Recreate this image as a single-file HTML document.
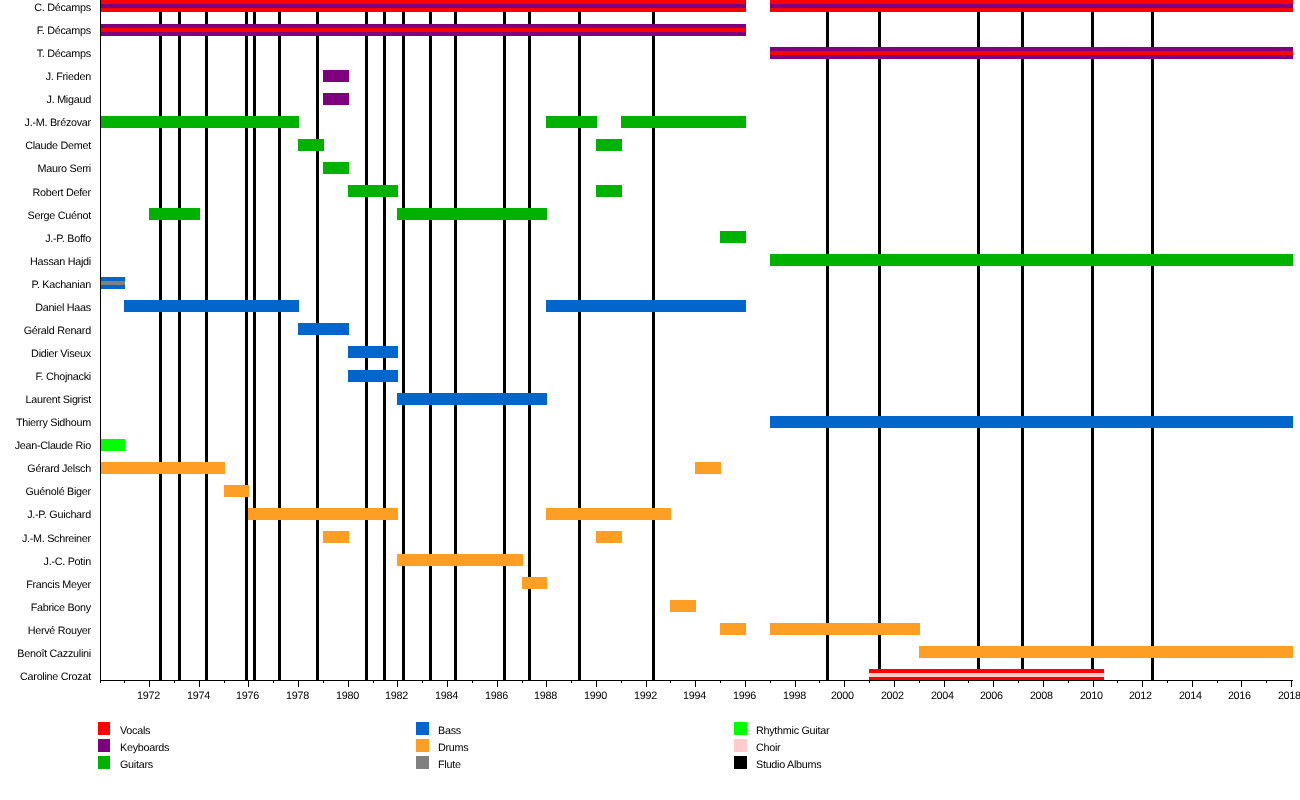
<!DOCTYPE html>
<html><head><meta charset="utf-8"><title>Timeline</title>
<style>
html,body{margin:0;padding:0;background:#fff;}
body{width:1300px;height:800px;position:relative;overflow:hidden;font-family:"Liberation Sans",Arial,sans-serif;font-size:10.8px;letter-spacing:-0.28px;color:#000;text-rendering:geometricPrecision;}
div{position:absolute;}
.l{top:0;width:3px;height:681px;background:#000;}
.b{height:12px;}
.i{height:4px;}
.n{left:0;width:90.9px;text-align:right;white-space:nowrap;line-height:12px;height:12px;}
.t{top:681px;width:1px;height:6px;background:#000;}
.m{top:681px;width:1px;height:2px;background:#000;}
.y{top:690px;width:40px;text-align:left;line-height:12px;height:12px;white-space:nowrap;}
.s{width:13px;height:13px;}
.g{line-height:12px;height:12px;white-space:nowrap;}
#w{left:0;top:0;width:1300px;height:800px;will-change:transform;}
</style></head><body><div id="w">

<div class="l" style="left:159px"></div>
<div class="l" style="left:178px"></div>
<div class="l" style="left:205px"></div>
<div class="l" style="left:245px"></div>
<div class="l" style="left:253px"></div>
<div class="l" style="left:278px"></div>
<div class="l" style="left:316px"></div>
<div class="l" style="left:365px"></div>
<div class="l" style="left:383px"></div>
<div class="l" style="left:402px"></div>
<div class="l" style="left:429px"></div>
<div class="l" style="left:454px"></div>
<div class="l" style="left:503px"></div>
<div class="l" style="left:528px"></div>
<div class="l" style="left:578px"></div>
<div class="l" style="left:652px"></div>
<div class="l" style="left:826px"></div>
<div class="l" style="left:878px"></div>
<div class="l" style="left:977px"></div>
<div class="l" style="left:1021px"></div>
<div class="l" style="left:1091px"></div>
<div class="l" style="left:1151px"></div>


<div class="b" style="left:100px;top:0px;width:646px;background:#ff0000"></div>
<div class="i" style="left:100px;top:4px;width:646px;background:#7e007e"></div>
<div class="b" style="left:770px;top:0px;width:523px;background:#ff0000"></div>
<div class="i" style="left:770px;top:4px;width:523px;background:#7e007e"></div>
<div class="b" style="left:100px;top:24px;width:646px;background:#7e007e"></div>
<div class="i" style="left:100px;top:28px;width:646px;background:#ff0000"></div>
<div class="b" style="left:770px;top:47px;width:523px;background:#7e007e"></div>
<div class="i" style="left:770px;top:51px;width:523px;background:#ff0000"></div>
<div class="b" style="left:323px;top:70px;width:26px;background:#7e007e"></div>
<div class="b" style="left:323px;top:93px;width:26px;background:#7e007e"></div>
<div class="b" style="left:100px;top:116px;width:199px;background:#00b200"></div>
<div class="b" style="left:546px;top:116px;width:51px;background:#00b200"></div>
<div class="b" style="left:621px;top:116px;width:125px;background:#00b200"></div>
<div class="b" style="left:298px;top:139px;width:26px;background:#00b200"></div>
<div class="b" style="left:596px;top:139px;width:26px;background:#00b200"></div>
<div class="b" style="left:323px;top:162px;width:26px;background:#00b200"></div>
<div class="b" style="left:348px;top:185px;width:50px;background:#00b200"></div>
<div class="b" style="left:596px;top:185px;width:26px;background:#00b200"></div>
<div class="b" style="left:149px;top:208px;width:51px;background:#00b200"></div>
<div class="b" style="left:397px;top:208px;width:150px;background:#00b200"></div>
<div class="b" style="left:720px;top:231px;width:26px;background:#00b200"></div>
<div class="b" style="left:770px;top:254px;width:523px;background:#00b200"></div>
<div class="b" style="left:100px;top:277px;width:25px;background:#0066cc"></div>
<div class="i" style="left:100px;top:281px;width:25px;background:#808080"></div>
<div class="b" style="left:124px;top:300px;width:175px;background:#0066cc"></div>
<div class="b" style="left:546px;top:300px;width:200px;background:#0066cc"></div>
<div class="b" style="left:298px;top:323px;width:51px;background:#0066cc"></div>
<div class="b" style="left:348px;top:346px;width:50px;background:#0066cc"></div>
<div class="b" style="left:348px;top:370px;width:50px;background:#0066cc"></div>
<div class="b" style="left:397px;top:393px;width:150px;background:#0066cc"></div>
<div class="b" style="left:770px;top:416px;width:523px;background:#0066cc"></div>
<div class="b" style="left:100px;top:439px;width:25px;background:#00ff00"></div>
<div class="b" style="left:100px;top:462px;width:125px;background:#ff9e24"></div>
<div class="b" style="left:695px;top:462px;width:26px;background:#ff9e24"></div>
<div class="b" style="left:224px;top:485px;width:25px;background:#ff9e24"></div>
<div class="b" style="left:248px;top:508px;width:150px;background:#ff9e24"></div>
<div class="b" style="left:546px;top:508px;width:125px;background:#ff9e24"></div>
<div class="b" style="left:323px;top:531px;width:26px;background:#ff9e24"></div>
<div class="b" style="left:596px;top:531px;width:26px;background:#ff9e24"></div>
<div class="b" style="left:397px;top:554px;width:126px;background:#ff9e24"></div>
<div class="b" style="left:522px;top:577px;width:25px;background:#ff9e24"></div>
<div class="b" style="left:670px;top:600px;width:26px;background:#ff9e24"></div>
<div class="b" style="left:720px;top:623px;width:26px;background:#ff9e24"></div>
<div class="b" style="left:770px;top:623px;width:150px;background:#ff9e24"></div>
<div class="b" style="left:919px;top:646px;width:374px;background:#ff9e24"></div>
<div class="b" style="left:869px;top:669px;width:235px;background:#ff0000"></div>
<div class="i" style="left:869px;top:673px;width:235px;background:#ffcccc"></div>


<div style="left:100px;top:0;width:1px;height:681px;background:#000"></div>
<div style="left:100px;top:680px;width:1193px;height:1px;background:#000"></div>

<div class="m" style="left:100px"></div>
<div class="m" style="left:124px"></div>
<div class="t" style="left:149px"></div>
<div class="y" style="left:137.0px">1972</div>
<div class="m" style="left:174px"></div>
<div class="t" style="left:199px"></div>
<div class="y" style="left:187.0px">1974</div>
<div class="m" style="left:224px"></div>
<div class="t" style="left:248px"></div>
<div class="y" style="left:236.0px">1976</div>
<div class="m" style="left:273px"></div>
<div class="t" style="left:298px"></div>
<div class="y" style="left:286.0px">1978</div>
<div class="m" style="left:323px"></div>
<div class="t" style="left:348px"></div>
<div class="y" style="left:336.0px">1980</div>
<div class="m" style="left:373px"></div>
<div class="t" style="left:397px"></div>
<div class="y" style="left:385.0px">1982</div>
<div class="m" style="left:422px"></div>
<div class="t" style="left:447px"></div>
<div class="y" style="left:435.0px">1984</div>
<div class="m" style="left:472px"></div>
<div class="t" style="left:497px"></div>
<div class="y" style="left:485.0px">1986</div>
<div class="m" style="left:522px"></div>
<div class="t" style="left:546px"></div>
<div class="y" style="left:534.0px">1988</div>
<div class="m" style="left:571px"></div>
<div class="t" style="left:596px"></div>
<div class="y" style="left:584.0px">1990</div>
<div class="m" style="left:621px"></div>
<div class="t" style="left:646px"></div>
<div class="y" style="left:634.0px">1992</div>
<div class="m" style="left:670px"></div>
<div class="t" style="left:695px"></div>
<div class="y" style="left:683.0px">1994</div>
<div class="m" style="left:720px"></div>
<div class="t" style="left:745px"></div>
<div class="y" style="left:733.0px">1996</div>
<div class="m" style="left:770px"></div>
<div class="t" style="left:795px"></div>
<div class="y" style="left:783.0px">1998</div>
<div class="m" style="left:819px"></div>
<div class="t" style="left:844px"></div>
<div class="y" style="left:830.9px">2000</div>
<div class="m" style="left:869px"></div>
<div class="t" style="left:894px"></div>
<div class="y" style="left:880.9px">2002</div>
<div class="m" style="left:919px"></div>
<div class="t" style="left:944px"></div>
<div class="y" style="left:930.9px">2004</div>
<div class="m" style="left:968px"></div>
<div class="t" style="left:993px"></div>
<div class="y" style="left:979.9px">2006</div>
<div class="m" style="left:1018px"></div>
<div class="t" style="left:1043px"></div>
<div class="y" style="left:1029.9px">2008</div>
<div class="m" style="left:1068px"></div>
<div class="t" style="left:1093px"></div>
<div class="y" style="left:1079.9px">2010</div>
<div class="m" style="left:1117px"></div>
<div class="t" style="left:1142px"></div>
<div class="y" style="left:1128.9px">2012</div>
<div class="m" style="left:1167px"></div>
<div class="t" style="left:1192px"></div>
<div class="y" style="left:1178.9px">2014</div>
<div class="m" style="left:1217px"></div>
<div class="t" style="left:1241px"></div>
<div class="y" style="left:1227.9px">2016</div>
<div class="m" style="left:1266px"></div>
<div class="t" style="left:1291px"></div>
<div class="y" style="left:1277.9px">2018</div>


<div class="n" style="top:1.9px">C. Décamps</div>
<div class="n" style="top:25.0px">F. Décamps</div>
<div class="n" style="top:48.0px">T. Décamps</div>
<div class="n" style="top:71.1px">J. Frieden</div>
<div class="n" style="top:94.2px">J. Migaud</div>
<div class="n" style="top:117.2px">J.-M. Brézovar</div>
<div class="n" style="top:140.3px">Claude Demet</div>
<div class="n" style="top:163.4px">Mauro Serri</div>
<div class="n" style="top:186.5px">Robert Defer</div>
<div class="n" style="top:209.5px">Serge Cuénot</div>
<div class="n" style="top:232.6px">J.-P. Boffo</div>
<div class="n" style="top:255.7px">Hassan Hajdi</div>
<div class="n" style="top:278.7px">P. Kachanian</div>
<div class="n" style="top:301.8px">Daniel Haas</div>
<div class="n" style="top:324.9px">Gérald Renard</div>
<div class="n" style="top:347.9px">Didier Viseux</div>
<div class="n" style="top:371.0px">F. Chojnacki</div>
<div class="n" style="top:394.1px">Laurent Sigrist</div>
<div class="n" style="top:417.1px">Thierry Sidhoum</div>
<div class="n" style="top:440.2px">Jean-Claude Rio</div>
<div class="n" style="top:463.3px">Gérard Jelsch</div>
<div class="n" style="top:486.3px">Guénolé Biger</div>
<div class="n" style="top:509.4px">J.-P. Guichard</div>
<div class="n" style="top:532.5px">J.-M. Schreiner</div>
<div class="n" style="top:555.6px">J.-C. Potin</div>
<div class="n" style="top:578.6px">Francis Meyer</div>
<div class="n" style="top:601.7px">Fabrice Bony</div>
<div class="n" style="top:624.8px">Hervé Rouyer</div>
<div class="n" style="top:647.8px">Benoît Cazzulini</div>
<div class="n" style="top:670.9px">Caroline Crozat</div>


<div class="s" style="left:98px;top:722px;width:12px;background:#ff0000"></div>
<div class="g" style="left:120px;top:725px">Vocals</div>
<div class="s" style="left:98px;top:739px;width:12px;background:#7e007e"></div>
<div class="g" style="left:120px;top:742px">Keyboards</div>
<div class="s" style="left:98px;top:756px;width:12px;background:#00b200"></div>
<div class="g" style="left:120px;top:759px">Guitars</div>
<div class="s" style="left:416px;top:722px;width:13px;background:#0066cc"></div>
<div class="g" style="left:438px;top:725px">Bass</div>
<div class="s" style="left:416px;top:739px;width:13px;background:#ff9e24"></div>
<div class="g" style="left:438px;top:742px">Drums</div>
<div class="s" style="left:416px;top:756px;width:13px;background:#808080"></div>
<div class="g" style="left:438px;top:759px">Flute</div>
<div class="s" style="left:734px;top:722px;width:13px;background:#00ff00"></div>
<div class="g" style="left:756px;top:725px">Rhythmic Guitar</div>
<div class="s" style="left:734px;top:739px;width:13px;background:#ffcccc"></div>
<div class="g" style="left:756px;top:742px">Choir</div>
<div class="s" style="left:734px;top:756px;width:13px;background:#000"></div>
<div class="g" style="left:756px;top:759px">Studio Albums</div>

</div></body></html>
